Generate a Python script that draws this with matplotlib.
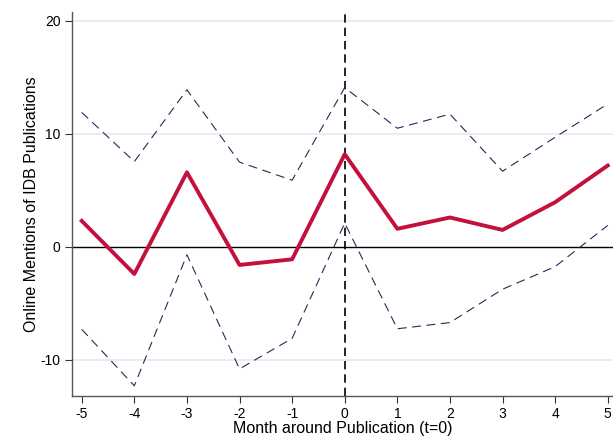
import numpy as np
import matplotlib.pyplot as plt

plt.rcParams['font.family'] = ['Liberation Sans', 'DejaVu Sans']
plt.rcParams['axes.unicode_minus'] = False

months = [-5, -4, -3, -2, -1, 0, 1, 2, 3, 4, 5]
estimate = [2.3, -2.4, 6.6, -1.6, -1.1, 8.2, 1.6, 2.6, 1.5, 3.95, 7.2]
upper_ci = [11.9, 7.55, 13.9, 7.5, 5.9, 14.1, 10.5, 11.75, 6.7, 9.7, 12.65]
lower_ci = [-7.3, -12.3, -0.7, -10.8, -8.1, 2.1, -7.25, -6.7, -3.75, -1.75, 1.9]
yticks = [-10, 0, 10, 20]

fig = plt.figure(figsize=(6.13, 4.4), dpi=100)
ax = fig.add_axes([0.117, 0.1, 0.883, 0.873])

for y in [-10, 10, 20]:
    ax.axhline(y, color='#e6eef2', lw=1.4, zorder=0)
ax.axhline(0, color='black', lw=1.0, zorder=1)
ax.axvline(0, color='black', lw=1.2, ls=(0, (5, 3)), zorder=1)

ax.plot(months, upper_ci, color='#1f2d56', lw=0.8, ls=(0, (8, 5)), zorder=2)
ax.plot(months, lower_ci, color='#1f2d56', lw=0.8, ls=(0, (8, 5)), zorder=2)
ax.plot(months, estimate, color='#c4103c', lw=2.8, zorder=3)

ax.set_xlim(-5.19, 5.1)
ax.set_ylim(-13.2, 20.8)
ax.set_xticks(months)
ax.set_yticks(yticks)
ax.tick_params(labelsize=10, length=5, color='#333333', pad=3)

for s in ['top', 'right']:
    ax.spines[s].set_visible(False)
for s in ['left', 'bottom']:
    ax.spines[s].set_color('#555555')
    ax.spines[s].set_linewidth(1.0)

ax.set_xlabel('Month around Publication (t=0)', fontsize=11.5, labelpad=0)
ax.set_ylabel('Online Mentions of IDB Publications', fontsize=11.5, labelpad=1.5)

fig.savefig('out.png', dpi=100)
